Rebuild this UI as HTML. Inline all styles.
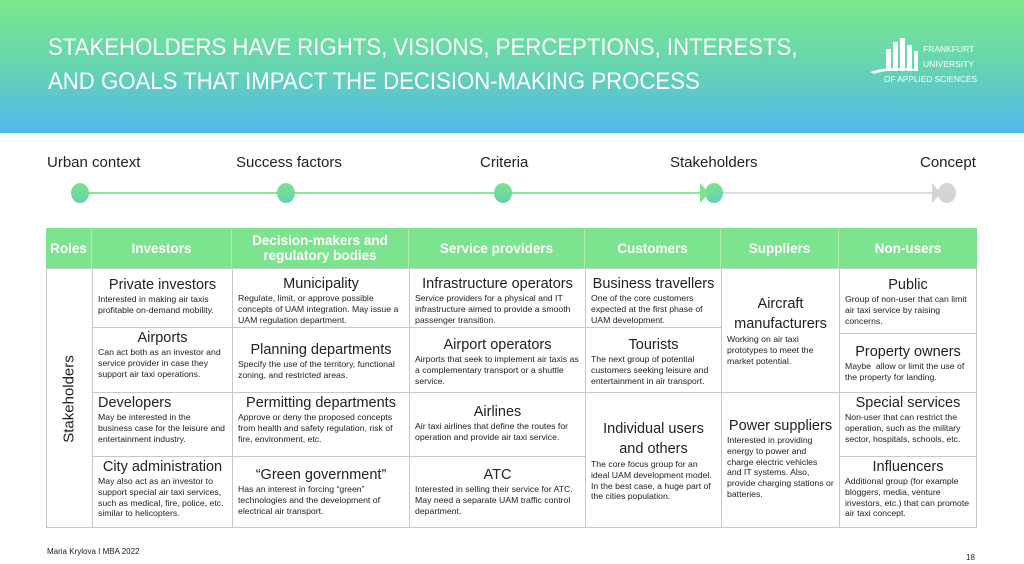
<!DOCTYPE html>
<html><head><meta charset="utf-8"><style>
*{margin:0;padding:0;box-sizing:border-box}
body{width:1024px;height:564px;position:relative;background:#fff;font-family:"Liberation Sans",sans-serif;overflow:hidden;color:#222}
.hdr{position:absolute;left:0;top:0;width:1024px;height:133px;background:linear-gradient(#7ae88e 0%,#66d4b0 50%,#52b8ee 100%)}
.t{position:absolute;left:48px;color:#fff;font-size:24.5px;white-space:nowrap;transform-origin:0 0;transform:scaleX(0.905)}
.lab{position:absolute;top:154px;white-space:nowrap;font-size:15px}
.dot{position:absolute;top:183px;width:18px;height:20px;border-radius:50%;background:linear-gradient(#7ee38a,#62d2b0)}
.c{position:absolute;border:1px solid #c8c8c8;padding:2px 5px;overflow:hidden}
.c h{display:block;font-size:14.5px;text-align:center;line-height:17px;color:#222;font-weight:normal}
.c p{font-size:8.7px;line-height:10.8px;color:#222}
.th{position:absolute;top:228px;height:40px;background:#7de38e;color:#fff;font-weight:bold;font-size:13.5px;display:flex;align-items:center;justify-content:center;text-align:center;line-height:15px;border-right:1px solid #a8eeb2}
</style></head><body>
<div class="hdr"></div>
<div class="t" style="top:34px">STAKEHOLDERS HAVE RIGHTS, VISIONS, PERCEPTIONS, INTERESTS,</div>
<div class="t" style="top:68px">AND GOALS THAT IMPACT THE DECISION-MAKING PROCESS</div>
<svg style="position:absolute;left:866px;top:36px" width="120" height="50">
<g fill="#fff"><rect x="20" y="13" width="5" height="22"/><rect x="27" y="6" width="5" height="29"/><rect x="34" y="2" width="5" height="33"/><rect x="41" y="9" width="5" height="26"/><rect x="48" y="15" width="4" height="20"/></g>
<path d="M4 36 Q20 30 50 33 L50 35 Q20 33 8 38Z" fill="#fff"/>
<text x="57" y="16" fill="#fff" font-size="8.5" font-family="Liberation Sans">FRANKFURT</text>
<text x="57" y="31" fill="#fff" font-size="8.5" font-family="Liberation Sans">UNIVERSITY</text>
<text x="18" y="46" fill="#fff" font-size="8.5" font-family="Liberation Sans" textLength="93" lengthAdjust="spacingAndGlyphs">OF APPLIED SCIENCES</text>
</svg>
<div class="lab" style="left:47px">Urban context</div>
<div class="lab" style="left:236px">Success factors</div>
<div class="lab" style="left:480px">Criteria</div>
<div class="lab" style="left:670px">Stakeholders</div>
<div class="lab" style="left:920px">Concept</div>
<div style="position:absolute;left:80px;top:192px;width:625px;height:2px;background:#8ce69a"></div>
<div style="position:absolute;left:714px;top:192px;width:225px;height:2px;background:#dcdcdc"></div>
<div class="dot" style="left:71px"></div><div class="dot" style="left:277px"></div><div class="dot" style="left:494px"></div><div class="dot" style="left:705px"></div>
<div class="dot" style="left:938px;background:#d4d4d4"></div>
<svg style="position:absolute;left:0;top:0" width="1024" height="564"><polygon points="700,183 709,193 700,203" fill="#7ee38a"/><polygon points="932,183 941,193 932,203" fill="#d4d4d4"/></svg>

<div class="th" style="left:46px;width:46px">Roles</div>
<div class="th" style="left:92px;width:140px">Investors</div>
<div class="th" style="left:232px;width:177px">Decision-makers and regulatory bodies</div>
<div class="th" style="left:409px;width:176px">Service providers</div>
<div class="th" style="left:585px;width:136px">Customers</div>
<div class="th" style="left:721px;width:118px">Suppliers</div>
<div class="th" style="left:839px;width:138px;border-right:none">Non-users</div>

<div class="c" style="left:46px;top:268px;width:47px;height:260px"><div style="position:absolute;left:22px;top:130px;transform:translate(-50%,-50%) rotate(-90deg);font-size:15px;white-space:nowrap">Stakeholders</div></div>

<div class="c" style="left:92px;top:268px;width:141px;height:60px;padding-top:8px"><h>Private investors</h><p>Interested in making air taxis profitable on-demand mobility.</p></div>
<div class="c" style="left:92px;top:327px;width:141px;height:66px"><h>Airports</h><p>Can act both as an investor and service provider in case they support air taxi operations.</p></div>
<div class="c" style="left:92px;top:392px;width:141px;height:65px"><h style="text-align:left">Developers</h><p>May be interested in the business case for the leisure and entertainment industry.</p></div>
<div class="c" style="left:92px;top:456px;width:141px;height:72px"><h>City administration</h><p>May also act as an investor to support special air taxi services, such as medical, fire, police, etc. similar to helicopters.</p></div>

<div class="c" style="left:232px;top:268px;width:178px;height:60px;padding-top:7px"><h>Municipality</h><p>Regulate, limit, or approve possible concepts of UAM integration. May issue a UAM regulation department.</p></div>
<div class="c" style="left:232px;top:327px;width:178px;height:66px;padding-top:14px"><h>Planning departments</h><p>Specify the use of the territory, functional zoning, and restricted areas.</p></div>
<div class="c" style="left:232px;top:392px;width:178px;height:65px"><h>Permitting departments</h><p>Approve or deny the proposed concepts from health and safety regulation, risk of fire, environment, etc.</p></div>
<div class="c" style="left:232px;top:456px;width:178px;height:72px;padding-top:10px"><h>“Green government”</h><p>Has an interest in forcing “green” technologies and the development of electrical air transport.</p></div>

<div class="c" style="left:409px;top:268px;width:177px;height:60px;padding-top:7px"><h>Infrastructure operators</h><p>Service providers for a physical and IT infrastructure aimed to provide a smooth passenger transition.</p></div>
<div class="c" style="left:409px;top:327px;width:177px;height:66px;padding-top:9px"><h>Airport operators</h><p>Airports that seek to implement air taxis as a complementary transport or a shuttle service.</p></div>
<div class="c" style="left:409px;top:392px;width:177px;height:65px;padding-top:11px"><h>Airlines</h><p>Air taxi airlines that define the routes for operation and provide air taxi service.</p></div>
<div class="c" style="left:409px;top:456px;width:177px;height:72px;padding-top:10px"><h>ATC</h><p>Interested in selling their service for ATC. May need a separate UAM traffic control department.</p></div>

<div class="c" style="left:585px;top:268px;width:137px;height:60px;padding-top:7px"><h>Business travellers</h><p>One of the core customers expected at the first phase of UAM development.</p></div>
<div class="c" style="left:585px;top:327px;width:137px;height:66px;padding-top:9px"><h>Tourists</h><p>The next group of potential customers seeking leisure and entertainment in air transport.</p></div>
<div class="c" style="left:585px;top:392px;width:137px;height:136px;padding-top:26px"><h style="line-height:20px">Individual users and others</h><p>The core focus group for an ideal UAM development model. In the best case, a huge part of the cities population.</p></div>

<div class="c" style="left:721px;top:268px;width:119px;height:125px;padding-top:25px"><h style="line-height:20px">Aircraft manufacturers</h><p>Working on air taxi prototypes to meet the market potential.</p></div>
<div class="c" style="left:721px;top:392px;width:119px;height:136px;padding-top:25px"><h>Power suppliers</h><p>Interested in providing energy to power and charge electric vehicles and IT systems. Also, provide charging stations or batteries.</p></div>

<div class="c" style="left:839px;top:268px;width:138px;height:66px;padding-top:8px"><h>Public</h><p>Group of non-user that can limit air taxi service by raising concerns.</p></div>
<div class="c" style="left:839px;top:333px;width:138px;height:60px;padding-top:10px"><h>Property owners</h><p>Maybe &nbsp;allow or limit the use of the property for landing.</p></div>
<div class="c" style="left:839px;top:392px;width:138px;height:65px"><h>Special services</h><p>Non-user that can restrict the operation, such as the military sector, hospitals, schools, etc.</p></div>
<div class="c" style="left:839px;top:456px;width:138px;height:72px"><h>Influencers</h><p>Additional group (for example bloggers, media, venture investors, etc.) that can promote air taxi concept.</p></div>

<div style="position:absolute;left:47px;top:547px;font-size:8px">Maria Krylova I MBA 2022</div>
<div style="position:absolute;left:966px;top:553px;font-size:8px">18</div>
</body></html>
